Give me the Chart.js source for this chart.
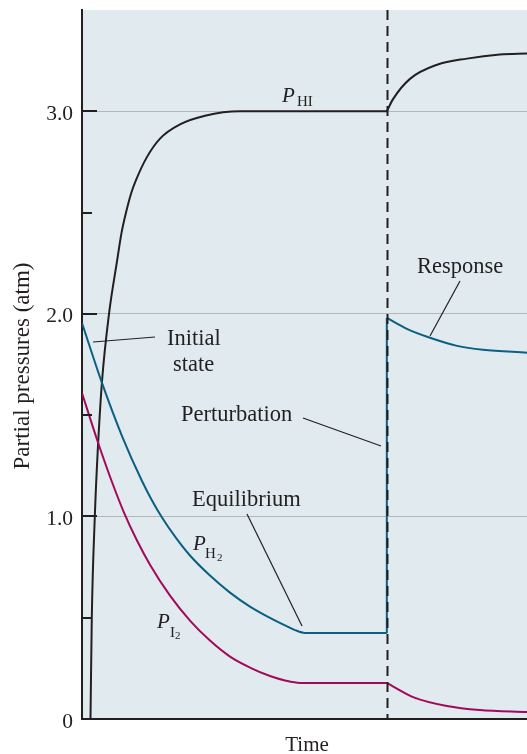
<!DOCTYPE html>
<html>
<head>
<meta charset="utf-8">
<script src="https://cdn.jsdelivr.net/npm/chart.js@4.4.1/dist/chart.umd.min.js"></script>
<style>
  html, body { margin: 0; padding: 0; background: #fff; }
  #wrap { width: 527px; height: 754px; }
</style>
</head>
<body>
<div id="wrap"><canvas id="chart" width="527" height="754"></canvas></div>
<script>
// time axis runs 0..100 (arbitrary units), perturbation at 68.5
const perturbT = 68.5;

// before the perturbation
const hiTime = [1.91, 2.2, 2.88, 3.48, 4.49, 6.07, 7.87, 8.88, 9.89, 11.12, 12.13, 14.49, 17.53, 22.02, 27.64, 35.51, 68.5];
const hiVals = [0, 0.5, 1.0, 1.3, 1.665, 2.0, 2.26, 2.4, 2.5, 2.6, 2.66, 2.77, 2.865, 2.935, 2.978, 3.0, 3.0];

const h2Time = [0, 4.49, 8.99, 13.48, 15.73, 17.98, 21.12, 24.27, 28.76, 33.26, 37.75, 42.25, 45.62, 47.87, 50.11, 68.5];
const h2Vals = [1.955, 1.659, 1.397, 1.175, 1.079, 0.995, 0.894, 0.807, 0.708, 0.624, 0.555, 0.499, 0.462, 0.439, 0.425, 0.425];

const i2Time = [0, 3.37, 6.74, 9.44, 12.36, 15.28, 19.78, 24.27, 28.76, 33.26, 37.75, 42.25, 45.62, 48.99, 68.5];
const i2Vals = [1.609, 1.38, 1.17, 1.019, 0.881, 0.762, 0.609, 0.486, 0.387, 0.308, 0.254, 0.212, 0.19, 0.178, 0.178];

// after the perturbation (response)
const hiTime2 = [68.5, 69.9, 73.7, 79.8, 86.5, 93.9, 100];
const hiVals2 = [3.0, 3.06, 3.16, 3.23, 3.26, 3.28, 3.285];

const h2Time2 = [68.5, 73.0, 78.2, 84.3, 90.1, 100];
const h2Vals2 = [1.98, 1.926, 1.882, 1.842, 1.823, 1.808];

const i2Time2 = [68.5, 74.4, 82.0, 89.4, 100];
const i2Vals2 = [0.178, 0.108, 0.064, 0.044, 0.034];

// y axis ticks
const yTickValues = [0, 1, 2, 3];
const yTickLabels = ['0', '1.0', '2.0', '3.0'];
const yMinorTicks = [0.5, 1.5, 2.5];

const INK = '#231f20';
const BLUE = '#0b5f82';
const MAGENTA = '#a3085b';
const SERIF = '"Liberation Serif", "DejaVu Serif", serif';

function pts(xs, ys) {
    return xs.map((x, i) => ({ x: x, y: ys[i] }));
}

function curve(xs, ys, color) {
    return {
        data: pts(xs, ys),
        borderColor: color,
        borderWidth: 2,
        showLine: true,
        fill: false,
        pointRadius: 0,
        cubicInterpolationMode: 'monotone'
    };
}

// background of the plot area + annotations
const paperPlugin = {
    id: 'paper',
    beforeDraw(chart) {
        const a = chart.chartArea;
        const ctx = chart.ctx;
        ctx.save();
        ctx.fillStyle = '#e1ebef';
        ctx.fillRect(a.left, a.top, a.right - a.left, a.bottom - a.top);
        ctx.restore();
    },
    afterDatasetsDraw(chart) {
        const ctx = chart.ctx;
        const a = chart.chartArea;
        const xs = chart.scales.x;
        const px = Math.round(xs.getPixelForValue(perturbT)) + 0.5;
        ctx.save();
        ctx.strokeStyle = INK;
        ctx.lineWidth = 2;
        ctx.setLineDash([10, 6]);
        ctx.beginPath();
        ctx.moveTo(px, a.top);
        ctx.lineTo(px, a.bottom);
        ctx.stroke();
        ctx.restore();
    },
    afterDraw(chart) {
        const ctx = chart.ctx;
        const a = chart.chartArea;
        const ys = chart.scales.y;
        ctx.save();

        // inner tick marks
        ctx.strokeStyle = INK;
        ctx.lineWidth = 2;
        yTickValues.forEach(v => {
            if (v === 0) return;
            const y = Math.round(ys.getPixelForValue(v));
            ctx.beginPath();
            ctx.moveTo(a.left, y);
            ctx.lineTo(a.left + 15, y);
            ctx.stroke();
        });
        yMinorTicks.forEach(v => {
            const y = Math.round(ys.getPixelForValue(v));
            ctx.beginPath();
            ctx.moveTo(a.left, y);
            ctx.lineTo(a.left + 10, y);
            ctx.stroke();
        });

        // leader lines
        ctx.lineWidth = 1.2;
        const leaders = [
            [93, 342, 155, 337],
            [303, 418, 381, 446],
            [247, 514, 302, 626],
            [460, 281, 430, 336]
        ];
        leaders.forEach(l => {
            ctx.beginPath();
            ctx.moveTo(l[0], l[1]);
            ctx.lineTo(l[2], l[3]);
            ctx.stroke();
        });

        // labels
        ctx.fillStyle = INK;
        ctx.textBaseline = 'alphabetic';
        ctx.textAlign = 'left';
        ctx.font = '22.5px ' + SERIF;
        ctx.fillText('Initial', 167, 345);
        ctx.fillText('state', 173, 371);
        ctx.fillText('Perturbation', 181, 421);
        ctx.fillText('Equilibrium', 192, 506);
        ctx.fillText('Response', 417, 273);

        ctx.textAlign = 'center';
        ctx.font = '21px ' + SERIF;
        ctx.fillText('Time', 307, 751);

        // y axis title
        ctx.save();
        ctx.translate(29, 366);
        ctx.rotate(-Math.PI / 2);
        ctx.font = '23px ' + SERIF;
        ctx.textAlign = 'center';
        ctx.fillText('Partial pressures (atm)', 0, 0);
        ctx.restore();

        // P labels with subscripts
        ctx.textAlign = 'left';
        ctx.font = 'italic 21px ' + SERIF;
        ctx.fillText('P', 282, 102);
        ctx.fillText('P', 193, 550);
        ctx.fillText('P', 157, 628);
        ctx.font = '15px ' + SERIF;
        ctx.fillText('HI', 297, 106);
        ctx.fillText('H', 205, 558);
        ctx.fillText('I', 170, 637);
        ctx.font = '11px ' + SERIF;
        ctx.fillText('2', 217, 561);
        ctx.fillText('2', 175, 639);

        ctx.restore();
    }
};

const ctx = document.getElementById('chart').getContext('2d');
new Chart(ctx, {
    type: 'scatter',
    data: {
        datasets: [
            curve(h2Time, h2Vals, BLUE),
            // jump of H2 at the perturbation
            curve([perturbT, perturbT], [h2Vals[h2Vals.length - 1], h2Vals2[0]], BLUE),
            curve(h2Time2, h2Vals2, BLUE),
            curve(i2Time, i2Vals, MAGENTA),
            curve(i2Time2, i2Vals2, MAGENTA),
            curve(hiTime, hiVals, INK),
            curve(hiTime2, hiVals2, INK)
        ]
    },
    options: {
        responsive: false,
        animation: false,
        layout: { padding: { top: 10, right: 0, left: 0, bottom: 0 } },
        plugins: {
            legend: { display: false },
            tooltip: { enabled: false }
        },
        scales: {
            x: {
                type: 'linear',
                min: 0,
                max: 100,
                grid: { display: false },
                ticks: { display: false },
                border: { color: INK, width: 2 },
                afterFit(scale) {
                    scale.height = 35;
                    scale.paddingLeft = 0;
                    scale.paddingRight = 0;
                }
            },
            y: {
                type: 'linear',
                min: 0,
                max: 3.5,
                afterBuildTicks(scale) {
                    scale.ticks = yTickValues.map(v => ({ value: v }));
                },
                ticks: {
                    padding: 9,
                    labelOffset: 3,
                    color: INK,
                    font: { family: SERIF, size: 21.5 },
                    callback: function (value) {
                        const i = yTickValues.indexOf(value);
                        return i >= 0 ? yTickLabels[i] : null;
                    }
                },
                grid: {
                    drawTicks: false,
                    lineWidth: 1,
                    color: c => (c.tick && c.tick.value === 0) ? 'rgba(0,0,0,0)' : '#b3b7b9'
                },
                border: { color: INK, width: 2 },
                afterFit(scale) {
                    scale.width = 82;
                    scale.paddingTop = 0;
                    scale.paddingBottom = 0;
                }
            }
        }
    },
    plugins: [paperPlugin]
});
</script>
</body>
</html>
